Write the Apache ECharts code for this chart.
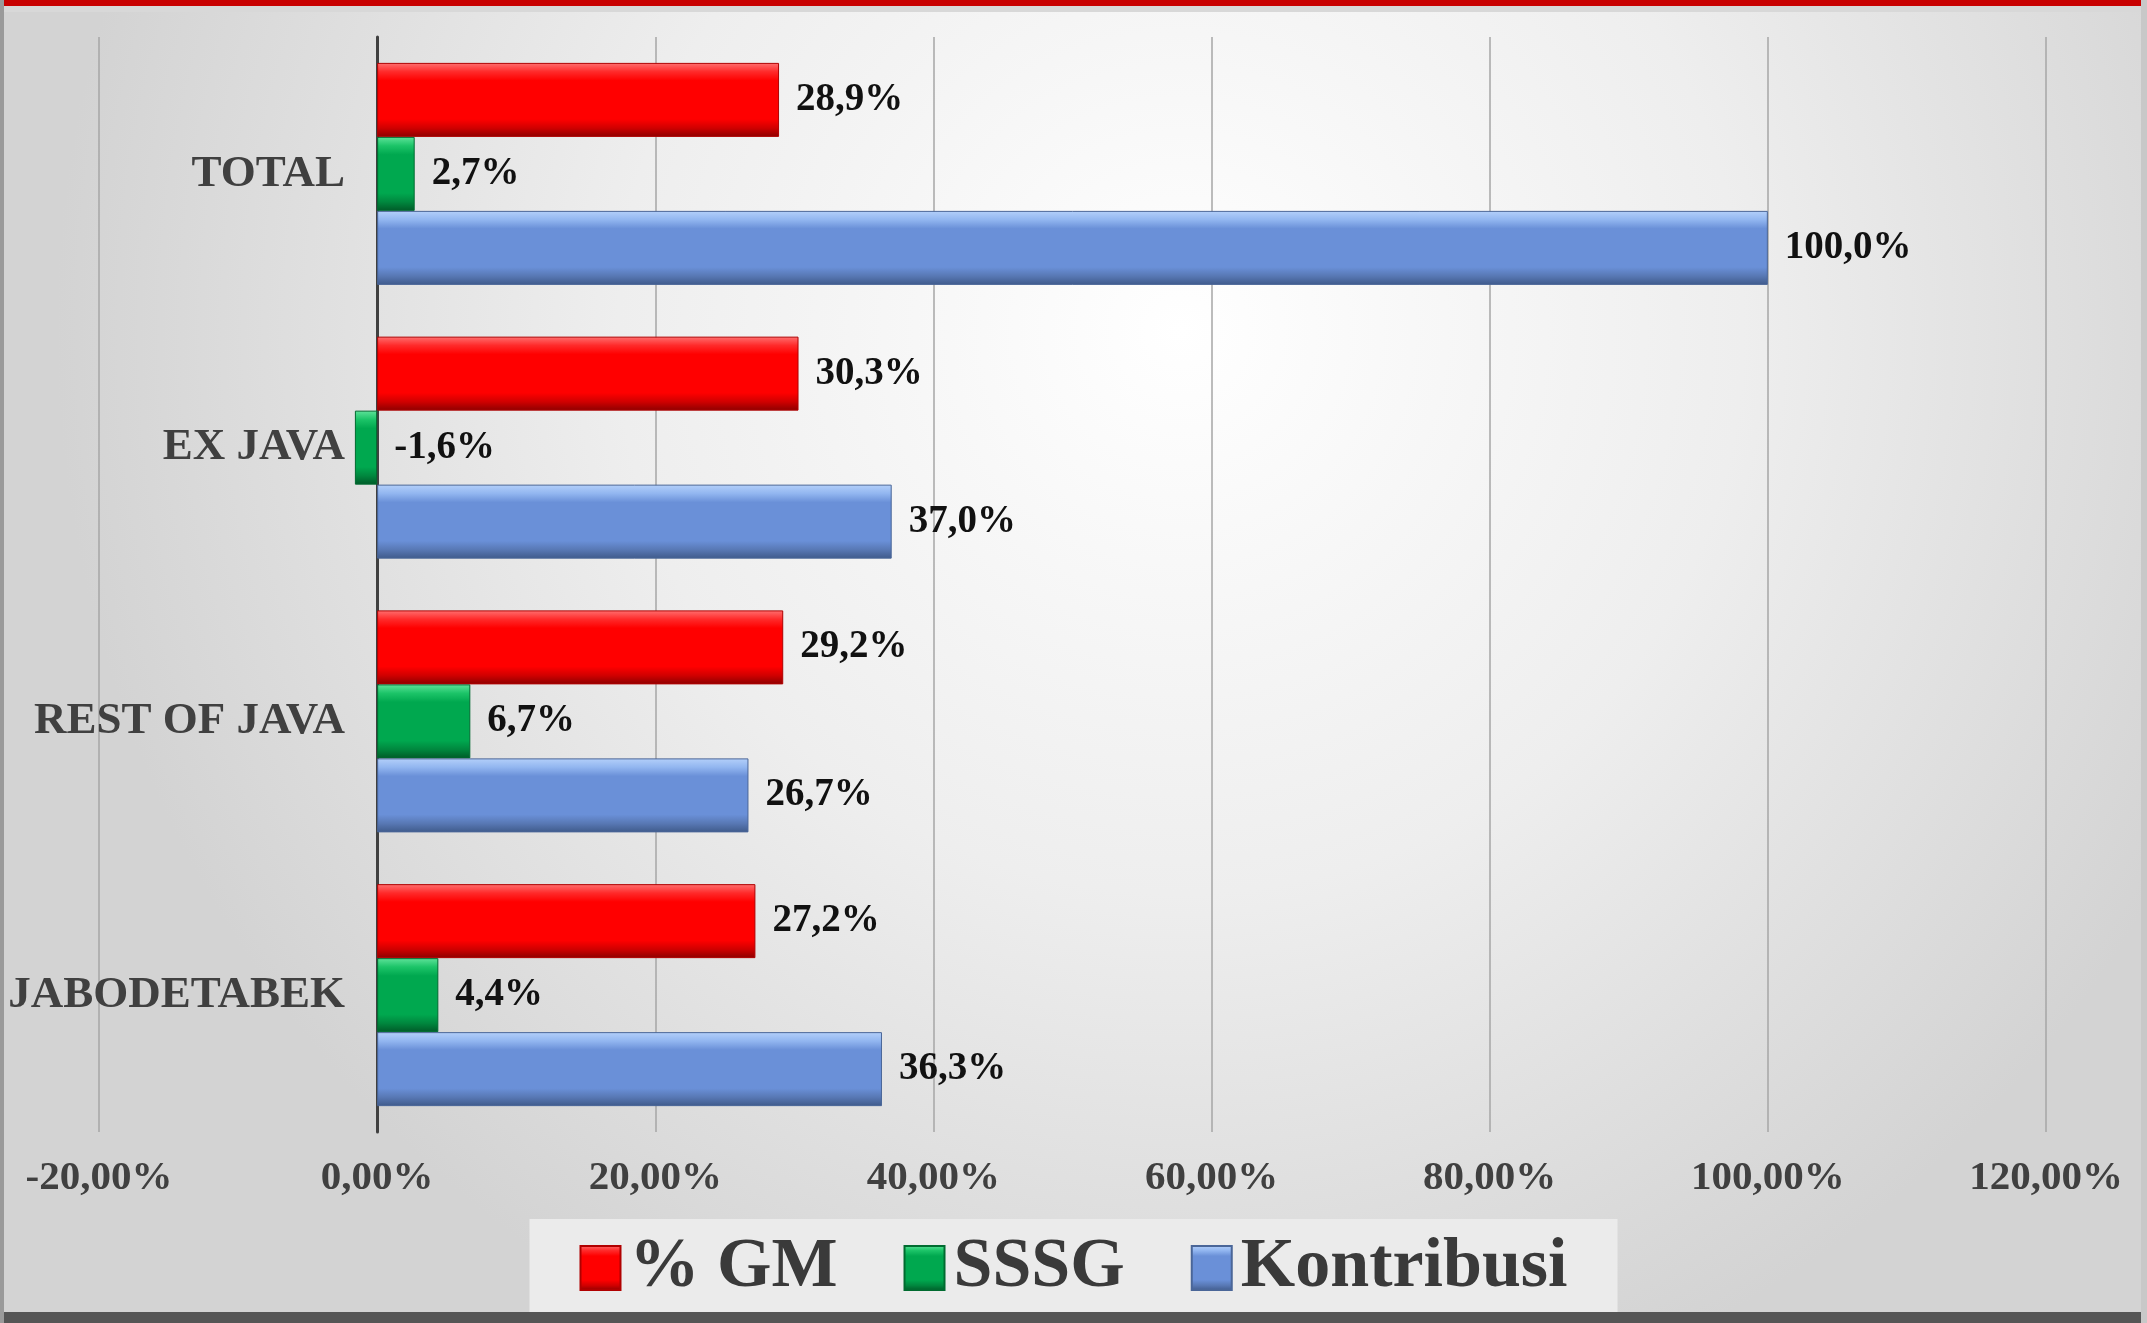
<!DOCTYPE html>
<html>
<head>
<meta charset="utf-8">
<title>GM / SSSG / Kontribusi</title>
<script src="https://cdn.jsdelivr.net/npm/echarts@6/dist/echarts.min.js"></script>
<style>
  html, body { margin: 0; padding: 0; }
  #chart { width: 2147px; height: 1323px; }
</style>
</head>
<body>
<div id="chart"></div>
<script>
// regions, top to bottom
const regions = ['TOTAL', 'EX JAVA', 'REST OF JAVA', 'JABODETABEK']
const gm = [28.9, 30.3, 29.2, 27.2]
const sssg = [2.7, -1.6, 6.7, 4.4]
const kontribusi = [100.0, 37.0, 26.7, 36.3]
const xTicks = [-20, 0, 20, 40, 60, 80, 100, 120]

const serif = "'Liberation Serif', 'DejaVu Serif', serif"

// bevel-ish look: light top edge, flat middle, dark bottom edge
function bevel (top, light, base, dark, bottom) {
  return {
    type: 'linear', x: 0, y: 0, x2: 0, y2: 1,
    colorStops: [
      { offset: 0, color: top },
      { offset: 0.12, color: light },
      { offset: 0.24, color: base },
      { offset: 0.76, color: base },
      { offset: 0.88, color: dark },
      { offset: 1, color: bottom }
    ]
  }
}

const pct1 = v => v.toFixed(1).replace('.', ',') + '%'
const pct2 = v => v.toFixed(2).replace('.', ',') + '%'

function barSeries (name, data, color, edge) {
  return {
    name: name,
    type: 'bar',
    data: data,
    barWidth: 74,
    barGap: '0%',
    itemStyle: { color: color, borderColor: edge, borderWidth: 1 },
    label: {
      show: true,
      position: 'right',
      distance: 17,
      formatter: p => pct1(p.value),
      fontFamily: serif,
      fontWeight: 'bold',
      fontSize: 39,
      color: '#111'
    }
  }
}

let chartDom = document.getElementById('chart')
let myChart = echarts.init(chartDom)
let option

option = {
  animation: false,
  backgroundColor: {
    type: 'radial', x: 0.55, y: 0.25, r: 0.85,
    colorStops: [
      { offset: 0, color: '#ffffff' },
      { offset: 0.5, color: '#eeeeee' },
      { offset: 1, color: '#d3d3d3' }
    ]
  },
  graphic: [
    { type: 'rect', left: 0, top: 0, shape: { width: 2147, height: 6 }, style: { fill: '#c80000' }, z: 10 },
    { type: 'rect', left: 0, top: 6, shape: { width: 2147, height: 6 }, style: { fill: '#d8d8d8' }, z: 10 },
    { type: 'rect', left: 0, top: 1312, shape: { width: 2147, height: 11 }, style: { fill: '#555555' }, z: 10 },
    { type: 'rect', left: 0, top: 0, shape: { width: 4, height: 1323 }, style: { fill: '#9a9a9a' }, z: 10 },
    { type: 'rect', left: 2141, top: 0, shape: { width: 6, height: 1323 }, style: { fill: '#c8c8c8' }, z: 10 }
  ],
  grid: {
    left: 99,
    right: 101,
    top: 37,
    bottom: 191,
    containLabel: false,
    outerBoundsMode: 'none'
  },
  legend: {
    left: 'center',
    top: 1219,
    data: ['% GM', 'SSSG', 'Kontribusi'],
    icon: 'rect',
    itemWidth: 40,
    itemHeight: 44,
    itemGap: 66,
    backgroundColor: '#ebebeb',
    padding: [14, 50, 14, 50],
    textStyle: {
      fontFamily: serif,
      fontWeight: 'bold',
      fontSize: 70,
      lineHeight: 66,
      color: '#3a3a3a',
      padding: [0, 0, 0, 4]
    }
  },
  xAxis: {
    type: 'value',
    min: xTicks[0],
    max: xTicks[xTicks.length - 1],
    interval: 20,
    axisLine: { show: false },
    axisTick: { show: false },
    splitLine: { lineStyle: { color: '#a6a6a6', width: 1.5 } },
    axisLabel: {
      margin: 26,
      formatter: v => pct2(v),
      fontFamily: serif,
      fontWeight: 'bold',
      fontSize: 41,
      color: '#404040'
    }
  },
  yAxis: {
    type: 'category',
    inverse: true,
    data: regions,
    offset: -278,
    axisTick: { show: false },
    axisLine: { show: true, onZero: false, lineStyle: { color: '#404040', width: 3 } },
    axisLabel: {
      margin: 32,
      fontFamily: serif,
      fontWeight: 'bold',
      fontSize: 45,
      color: '#404040'
    }
  },
  series: [
    barSeries('% GM', gm, bevel('#ff7070', '#ff2a2a', '#ff0000', '#d00000', '#8c0000'), '#b00000'),
    barSeries('SSSG', sssg, bevel('#5fe39a', '#1cc468', '#00a84f', '#00873e', '#005a28'), '#006b30'),
    barSeries('Kontribusi', kontribusi, bevel('#b4d0fa', '#92b6f0', '#6a90d8', '#5878b4', '#3f5a8a'), '#4a6698')
  ]
}

option && myChart.setOption(option)
</script>
</body>
</html>
